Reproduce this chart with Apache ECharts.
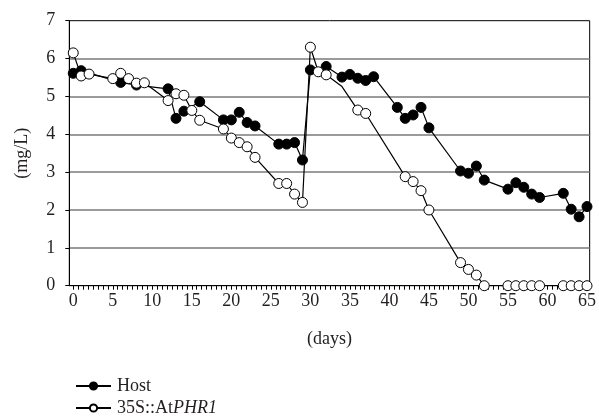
<!DOCTYPE html>
<html>
<head>
<meta charset="utf-8">
<script src="https://cdn.jsdelivr.net/npm/echarts@6/dist/echarts.min.js"></script>
<style>
    html, body { margin: 0; padding: 0; background: #fff; }
    #chart { width: 599px; height: 419px; }
</style>
</head>
<body>
<div id="chart"></div>
<script>
    // Host (filled circles)
    var hostDays = [0, 1, 6, 8, 12, 13, 14, 16, 19, 20, 21, 22, 23, 26, 27, 28, 29, 30, 32, 34, 35, 36, 37, 38, 41, 42, 43, 44, 45, 49, 50, 51, 52, 55, 56, 57, 58, 59, 62, 63, 64, 65];
    var hostVals = [5.61, 5.68, 5.37, 5.30, 5.20, 4.42, 4.61, 4.86, 4.38, 4.38, 4.58, 4.31, 4.22, 3.74, 3.74, 3.78, 3.32, 5.70, 5.79, 5.51, 5.58, 5.48, 5.42, 5.52, 4.71, 4.42, 4.51, 4.71, 4.17, 3.03, 2.97, 3.16, 2.79, 2.55, 2.72, 2.60, 2.42, 2.33, 2.44, 2.02, 1.82, 2.09];
    // 35S::AtPHR1 (open circles)
    var phrDays = [0, 1, 2, 5, 6, 7, 8, 9, 12, 13, 14, 15, 16, 19, 20, 21, 22, 23, 26, 27, 28, 29, 30, 31, 32, 34, 36, 37, 42, 43, 44, 45, 49, 50, 51, 52, 55, 56, 57, 58, 59, 62, 63, 64, 65];
    var phrVals = [6.15, 5.54, 5.59, 5.47, 5.61, 5.47, 5.35, 5.36, 4.89, 5.07, 5.03, 4.63, 4.37, 4.14, 3.90, 3.78, 3.67, 3.39, 2.70, 2.70, 2.42, 2.20, 6.30, 5.65, 5.57, 5.26, 4.64, 4.55, 2.88, 2.75, 2.51, 2.00, 0.61, 0.43, 0.28, 0, 0, 0, 0, 0, 0, 0, 0, 0, 0];
    var phrNoMarker = [34];//拐点无圆圈
    var xLabels = [0, 5, 10, 15, 20, 25, 30, 35, 40, 45, 50, 55, 60, 65];

    var font = 'Liberation Serif';
    var ink = '#231f20';
    var fs = 18;

    function pairs(days, vals, noMark) {
        var list = [];
        for (var i = 0; i < days.length; i++) {
            if (noMark && noMark.indexOf(days[i]) >= 0)
                list.push({ value: [days[i], vals[i]], symbol: 'none' });
            else
                list.push([days[i], vals[i]]);
        }
        return list;
    }

    // 小刻度: 每5天8格
    var xTicks = [];
    for (var t = 0; t <= 65 * 8 / 5; t++) xTicks.push(t * 5 / 8);

    var chart = echarts.init(document.getElementById('chart'));
    chart.setOption({
        animation: false,
        textStyle: { fontFamily: font, color: ink },
        grid: { left: 69.3, right: 6.3, top: 20.7, bottom: 133.3, show: true, borderColor: '#000', borderWidth: 1 },
        legend: {
            orient: 'vertical',
            left: 70,
            top: 372,
            height: 60,
            itemWidth: 35,
            itemHeight: 9,
            itemGap: 4,
            data: ['Host', '35S::AtPHR1'],
            formatter: function (name) {
                if (name == '35S::AtPHR1') return '35S::At{i|PHR1}';
                return name;
            },
            textStyle: {
                fontFamily: font, fontSize: fs, color: ink, padding: [0, 0, 0, 1],
                rich: { i: { fontStyle: 'italic', fontFamily: font, fontSize: fs, color: ink } }
            }
        },
        xAxis: {
            type: 'value',
            min: -0.5,
            max: 65.34,
            name: '(days)',
            nameLocation: 'middle',
            nameGap: 45,
            nameTextStyle: { fontFamily: font, fontSize: fs, color: ink },
            axisLine: { lineStyle: { color: '#000', width: 1 } },
            axisTick: { show: true, customValues: xTicks, length: 4, lineStyle: { color: '#000' } },
            axisLabel: { customValues: xLabels, margin: 7, fontFamily: font, fontSize: fs, color: ink },
            splitLine: { show: false }
        },
        yAxis: {
            type: 'value',
            min: 0,
            max: 7,
            interval: 1,
            name: '(mg/L)',
            nameLocation: 'middle',
            nameGap: 38,
            nameTextStyle: { fontFamily: font, fontSize: fs, color: ink },
            axisLine: { show: true, onZero: false, lineStyle: { color: '#000', width: 1 } },
            axisTick: { show: true, length: 4, lineStyle: { color: '#000' } },
            axisLabel: { margin: 14, fontFamily: font, fontSize: fs, color: ink },
            splitLine: { show: true, showMinLine: false, showMaxLine: false, lineStyle: { color: '#7a7a7a', width: 1.5 } }
        },
        series: [
            {
                name: 'Host',
                type: 'line',
                data: pairs(hostDays, hostVals),
                symbol: 'circle',
                symbolSize: 10,
                lineStyle: { color: '#000', width: 1.2 },
                itemStyle: { color: '#000', borderColor: '#000', borderWidth: 1 }
            },
            {
                name: '35S::AtPHR1',
                type: 'line',
                data: pairs(phrDays, phrVals, phrNoMarker),
                symbol: 'circle',
                symbolSize: 10,
                lineStyle: { color: '#000', width: 1.2 },
                itemStyle: { color: '#fff', borderColor: '#000', borderWidth: 1 }
            }
        ]
    });
</script>
</body>
</html>
